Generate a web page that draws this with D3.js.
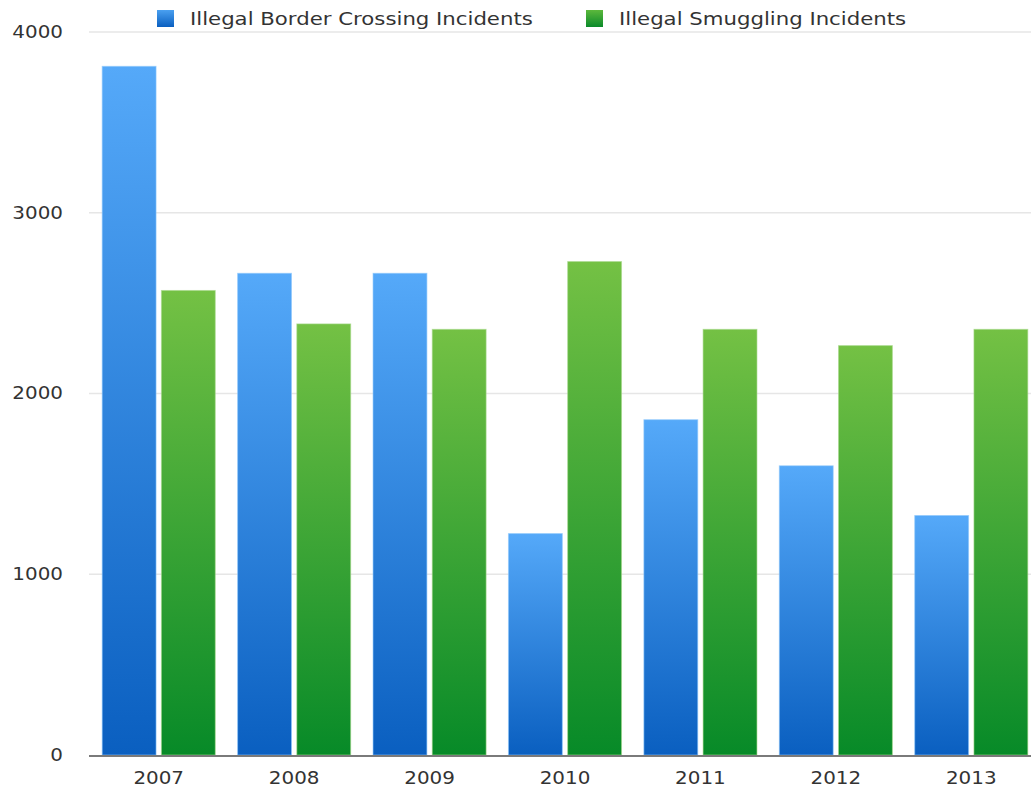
<!DOCTYPE html>
<html><head><meta charset="utf-8">
<script src="https://cdn.jsdelivr.net/npm/d3@7"></script>
<style>
body{margin:0;background:#fff;}
text{font-family:"DejaVu Sans",Verdana,sans-serif;fill:#333;}
</style></head>
<body><svg id="c" width="1031" height="795"></svg>
<script>
const years = ["2007","2008","2009","2010","2011","2012","2013"];
const borderCrossing = [3810, 2665, 2665, 1225, 1855, 1600, 1325];
const smuggling = [2570, 2385, 2355, 2730, 2355, 2265, 2355];
const seriesNames = ["Illegal Border Crossing Incidents", "Illegal Smuggling Incidents"];
const yTicks = [0, 1000, 2000, 3000, 4000];

const SX = 1.17;  // horizontal stretch of tick text
const LSX = 1.25; // horizontal stretch of legend text
const svg = d3.select("#c");
const defs = svg.append("defs");
function grad(id, top, bottom){
  const g = defs.append("linearGradient").attr("id", id).attr("x1",0).attr("y1",0).attr("x2",0).attr("y2",1);
  g.append("stop").attr("offset","0%").attr("stop-color",top);
  g.append("stop").attr("offset","100%").attr("stop-color",bottom);
}
grad("gBlue", "#55a9f9", "#0a5fc0");
grad("gGreen", "#74c144", "#078a28");
grad("lBlue", "#4aa0f0", "#0a5fc0");
grad("lGreen", "#5cb83c", "#0a8a2a");

const x0 = d3.scaleBand().domain(years).range([90, 1040]).paddingInner(0.165).paddingOuter(0.09);
const x1 = d3.scaleBand().domain([0,1]).range([0, x0.bandwidth()]).paddingInner(0.09);
const y = d3.scaleLinear().domain([0, 4000]).range([755, 32]);

// gridlines
svg.append("g").selectAll("line").data(yTicks.filter(d=>d>0)).join("line")
  .attr("x1", 89).attr("x2", 1031).attr("y1", d=>y(d)).attr("y2", d=>y(d))
  .attr("stroke", "#e6e6e6").attr("stroke-width", 1.5);

// y labels
svg.append("g").selectAll("text").data(yTicks).join("text")
  .attr("transform", d=>`translate(63,${y(d)}) scale(${SX},1)`)
  .attr("dy","0.35em").attr("text-anchor","end")
  .attr("font-size", 17).text(d=>d);

const fills = ["url(#gBlue)", "url(#gGreen)"];
const data = years.map((yr,i)=>({yr, vals:[borderCrossing[i], smuggling[i]]}));
const groups = svg.append("g").selectAll("g").data(data).join("g")
  .attr("transform", d=>`translate(${x0(d.yr)},0)`);
groups.selectAll("rect").data(d=>d.vals.map((v,k)=>({v,k}))).join("rect")
  .attr("x", d=>x1(d.k)).attr("width", x1.bandwidth())
  .attr("y", d=>y(d.v)).attr("height", d=>y(0)-y(d.v))
  .attr("fill", d=>fills[d.k])
  .attr("stroke", d=>d.k===0?"#8cc6fb":"#a6d98a").attr("stroke-width", 1).attr("stroke-opacity",0.6);

// baseline
svg.append("line").attr("x1", 89).attr("x2", 1031).attr("y1", y(0)+1).attr("y2", y(0)+1)
  .attr("stroke", "#7a7a7a").attr("stroke-width", 2);

// x labels
svg.append("g").selectAll("text").data(years).join("text")
  .attr("transform", d=>`translate(${x0(d)+x0.bandwidth()/2},778) scale(${SX},1)`)
  .attr("dy","0.35em").attr("text-anchor","middle").attr("font-size", 17).text(d=>d);

// legend
const legX = [157, 586];
const leg = svg.append("g").selectAll("g").data(seriesNames).join("g")
  .attr("transform", (d,i)=>`translate(${legX[i]},10)`);
leg.append("rect").attr("width", 17).attr("height", 17).attr("fill", (d,i)=>i===0?"url(#lBlue)":"url(#lGreen)");
leg.append("text").attr("transform", `translate(33,9) scale(${LSX},1)`)
  .attr("dy","0.35em").attr("font-size", 17).text(d=>d);
</script></body></html>
